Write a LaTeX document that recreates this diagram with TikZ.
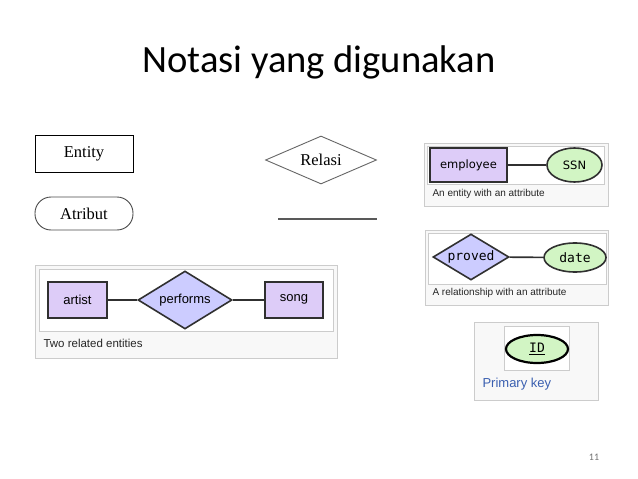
\documentclass[tikz,border=0pt]{standalone}
\usepackage{fontspec}
\setmainfont{Liberation Serif}
\newfontfamily\arialf{Liberation Sans}
\newfontfamily\calf{Carlito}
\newfontfamily\monof{DejaVu Sans Mono}
\newfontfamily\dejaf{DejaVu Sans}
\usetikzlibrary{shapes.geometric}
\definecolor{entfill}{HTML}{DDCCF8}
\definecolor{relfill}{HTML}{CCCCFF}
\definecolor{attfill}{HTML}{D2F5C4}
\definecolor{panelbg}{HTML}{F8F8F8}
\definecolor{panelline}{HTML}{CCCCCC}
\definecolor{erline}{HTML}{303030}
\definecolor{linkblue}{HTML}{3A5FB0}
\tikzset{
  panelbox/.style={fill=panelbg, draw=panelline, line width=0.8},
  innerbox/.style={fill=white, draw=panelline, line width=0.8},
  entbox/.style={draw=erline, fill=entfill, line width=1.6, inner sep=0},
  relbox/.style={diamond, draw=erline, fill=relfill, line width=1.6, inner sep=0},
  attbox/.style={ellipse, draw=erline, fill=attfill, line width=1.6, inner sep=0},
  erlink/.style={draw=erline, line width=1.6},
  captxt/.style={anchor=west, font=\arialf\fontsize{10}{12}\selectfont, text=black!85},
}
\begin{document}
\begin{tikzpicture}[x=1pt,y=-1pt]
\useasboundingbox (0,0) rectangle (638,479);
\fill[white] (0,0) rectangle (638,479);
% title
\node[font=\calf\fontsize{38.6}{40}\selectfont] (title) at (319,62) {Notasi yang digunakan};
% legend
\node[draw, line width=0.9, minimum width=98, minimum height=37, inner sep=0,
      font=\fontsize{16.5}{18}\selectfont] (entity) at (84,153.5) {\raisebox{1.5pt}{Entity}};
\node[draw=black!70, line width=0.9, rounded corners=16, minimum width=98, minimum height=33, inner sep=0,
      font=\fontsize{16.5}{18}\selectfont] (atribut) at (84,213.5) {Atribut};
\node[diamond, aspect=2.31, draw=black!60, line width=0.9, minimum width=111, minimum height=48, inner sep=0,
      font=\fontsize{16.5}{18}\selectfont] (relasi) at (321,160) {Relasi};
\coordinate (la) at (278,219);
\coordinate (lb) at (377,219);
\draw[black!65, line width=1.1] (la) -- (lb);
% panel 1
\draw[panelbox] (35,265) rectangle (337,358);
\draw[innerbox] (39,269) rectangle (333,331);
\node[captxt, font=\arialf\fontsize{11.5}{13}\selectfont] (cap1) at (40,343) {Two related entities};
\node[entbox, minimum width=59, minimum height=36, font=\arialf\fontsize{13}{15}\selectfont] (artist) at (77.5,300) {artist};
\node[relbox, aspect=1.62, minimum width=94, minimum height=58, font=\arialf\fontsize{13}{15}\selectfont] (performs) at (185,300) {performs};
\node[entbox, minimum width=58, minimum height=36, font=\arialf\fontsize{13}{15}\selectfont] (song) at (294,300) {\raisebox{3pt}{song}};
\draw[erlink] (artist) -- (performs);
\draw[erlink] (performs) -- (song);
% panel 2
\draw[panelbox] (424,143) rectangle (608,206);
\draw[innerbox] (427,146) rectangle (604,184);
\node[captxt] (cap2) at (429,194) {An entity with an attribute};
\node[entbox, minimum width=77, minimum height=34, font=\dejaf\fontsize{11.5}{13}\selectfont] (employee) at (468.5,165) {employee};
\node[attbox, minimum width=55, minimum height=34, font=\dejaf\fontsize{11.5}{13}\selectfont] (ssn) at (574.5,165) {SSN};
\draw[erlink] (employee) -- (ssn);
% panel 3
\draw[panelbox] (425,230) rectangle (608,305);
\draw[innerbox] (428,233) rectangle (606,284);
\node[captxt] (cap3) at (429,293) {A relationship with an attribute};
\node[relbox, aspect=1.65, minimum width=76, minimum height=46, font=\monof\fontsize{13}{15}\selectfont] (proved) at (471,257) {proved};
\node[attbox, minimum width=62, minimum height=29, font=\monof\fontsize{13}{15}\selectfont] (date) at (575,257.5) {date};
\draw[erlink] (proved) -- (date);
% panel 4
\draw[panelbox] (474,322) rectangle (598,400);
\draw[innerbox] (504,326) rectangle (569,370);
\node[attbox, line width=2.2, draw=black, minimum width=62, minimum height=28, font=\monof\fontsize{13}{15}\selectfont] (id) at (537,349) {\underline{ID}};
\node[anchor=west, font=\arialf\fontsize{13}{15}\selectfont, text=linkblue] (pk) at (479,384) {Primary key};
% page number
\node[font=\calf\fontsize{10}{12}\selectfont, text=black!55] (pnum) at (594,457) {11};
\end{tikzpicture}
\end{document}
